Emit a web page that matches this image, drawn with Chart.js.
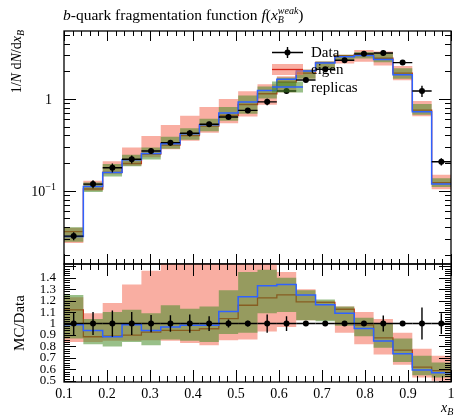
<!DOCTYPE html>
<html>
<head>
<meta charset="utf-8">
<script src="https://cdn.jsdelivr.net/npm/chart.js@4.4.1/dist/chart.umd.min.js"></script>
<style>
  html, body { margin: 0; padding: 0; background: #fff; }
  #wrap { position: relative; width: 455px; height: 418px; }
  #top { position: absolute; left: 0; top: 0; }
  #bot { position: absolute; left: 0; top: 255px; }
</style>
</head>
<body>
<div id="wrap">
  <canvas id="top" width="455" height="270"></canvas>
  <canvas id="bot" width="455" height="163"></canvas>
</div>
<script>
// bins in x_B
var binEdges = [0.1, 0.145, 0.19, 0.235, 0.28, 0.325, 0.37, 0.415, 0.46, 0.505, 0.55,
                0.595, 0.64, 0.685, 0.73, 0.775, 0.82, 0.865, 0.91, 0.955, 1.0];
// measured data, 1/N dN/dx_B
var dataVals = [0.032, 0.118, 0.178, 0.22, 0.271, 0.334, 0.423, 0.53, 0.635, 0.75,
                0.93, 1.22, 1.61, 2.11, 2.64, 3.1, 3.17, 2.49, 1.22, 0.207];
var dataRelErr = [0.10, 0.10, 0.115, 0.10, 0.075, 0.072, 0.08, 0.065, 0.035, 0.025,
                  0.08, 0.065, 0.02, 0.02, 0.02, 0.02, 0.07, 0.02, 0.14, 0.09];
// MC / Data
var eigenRatio = [1.12, 0.885, 0.89, 0.90, 0.925, 0.94, 0.94, 0.955, 1.043, 1.16,
                  1.225, 1.25, 1.19, 1.185, 1.125, 0.987, 0.876, 0.768, 0.62, 0.59];
var eigenLo = [0.84, 0.84, 0.85, 0.85, 0.855, 0.85, 0.83, 0.81, 0.855, 0.86,
               0.93, 0.97, 1.03, 1.03, 0.92, 0.82, 0.73, 0.64, 0.53, 0.50];
var eigenHi = [1.23, 1.09, 1.18, 1.34, 1.46, 1.56, 1.55, 1.54, 1.57, 1.62,
               1.55, 1.45, 1.30, 1.20, 1.15, 1.10, 1.04, 0.92, 0.78, 0.72];
var replicasRatio = [0.99, 0.94, 0.885, 0.99, 0.94, 0.97, 0.985, 0.985, 1.105, 1.235,
                     1.33, 1.34, 1.25, 1.165, 1.09, 0.957, 0.847, 0.737, 0.595, 0.57];
var replicasLo = [0.87, 0.82, 0.80, 0.84, 0.81, 0.86, 0.85, 0.84, 0.91, 0.92,
                  1.09, 1.10, 1.03, 1.02, 0.98, 0.89, 0.79, 0.665, 0.55, 0.53];
var replicasHi = [1.25, 1.04, 1.10, 1.12, 1.09, 1.16, 1.13, 1.15, 1.29, 1.45,
                  1.47, 1.40, 1.29, 1.21, 1.15, 1.05, 1.00, 0.87, 0.72, 0.66];

var RED_BAND = 'rgba(245,120,100,0.6)';
var GREEN_BAND = 'rgba(70,140,40,0.55)';
var RED_LINE = '#d8261a';
var BLUE_LINE = '#2f62ff';
var SERIF = '"Liberation Serif", "DejaVu Serif", serif';
var R14 = '14px ' + SERIF, I14 = 'italic 14px ' + SERIF;

function steps(vals, scaleBy) {
  var pts = [];
  for (var i = 0; i < vals.length; i++) {
    var v = scaleBy ? vals[i] * scaleBy[i] : vals[i];
    pts.push({x: binEdges[i], y: v}, {x: binEdges[i + 1], y: v});
  }
  return pts;
}

function makeSets(scaleBy) {
  var pts = [];
  for (var i = 0; i < dataVals.length; i++) {
    pts.push({x: (binEdges[i] + binEdges[i + 1]) / 2, y: scaleBy ? dataVals[i] : 1});
  }
  var base = {pointRadius: 0, tension: 0, fill: false, borderColor: 'rgba(0,0,0,0)', borderWidth: 1};
  return [
    Object.assign({}, base, {data: steps(eigenLo, scaleBy), order: 10}),
    Object.assign({}, base, {data: steps(eigenHi, scaleBy), fill: '-1', backgroundColor: RED_BAND, order: 9}),
    Object.assign({}, base, {data: steps(eigenRatio, scaleBy), borderColor: RED_LINE, borderWidth: 1.3, order: 8}),
    Object.assign({}, base, {data: steps(replicasLo, scaleBy), order: 7}),
    Object.assign({}, base, {data: steps(replicasHi, scaleBy), fill: '-1', backgroundColor: GREEN_BAND, order: 6}),
    Object.assign({}, base, {data: steps(replicasRatio, scaleBy), borderColor: BLUE_LINE, borderWidth: 1.5, order: 5}),
    {data: pts, showLine: false, pointRadius: 3, pointBackgroundColor: '#000', pointBorderWidth: 0, order: 1}
  ];
}

function errPlugin(isRatio) {
  return {
    id: 'err',
    afterDatasetsDraw: function(chart) {
      var ctx = chart.ctx, xs = chart.scales.x, ys = chart.scales.y;
      ctx.save();
      ctx.strokeStyle = '#000';
      ctx.lineWidth = 1.4;
      for (var i = 0; i < dataVals.length; i++) {
        var c = isRatio ? 1 : dataVals[i];
        var y = ys.getPixelForValue(c);
        var xm = xs.getPixelForValue((binEdges[i] + binEdges[i + 1]) / 2);
        ctx.beginPath();
        ctx.moveTo(xs.getPixelForValue(binEdges[i]), y);
        ctx.lineTo(xs.getPixelForValue(binEdges[i + 1]), y);
        ctx.moveTo(xm, ys.getPixelForValue(c * (1 - dataRelErr[i])));
        ctx.lineTo(xm, ys.getPixelForValue(c * (1 + dataRelErr[i])));
        ctx.stroke();
      }
      ctx.restore();
    }
  };
}

function seg(ctx, x1, y1, x2, y2) { ctx.moveTo(x1, y1); ctx.lineTo(x2, y2); }

function drawFrame(chart, xMaj, xMin, yTicks) {
  var ctx = chart.ctx, a = chart.chartArea, xs = chart.scales.x, ys = chart.scales.y;
  ctx.save();
  ctx.strokeStyle = '#000';
  ctx.lineWidth = 1;
  ctx.beginPath();
  for (var k = 0; k <= 45; k++) {
    var px = Math.round(xs.getPixelForValue(0.1 + k * 0.02)) + 0.5;
    var len = (k % 5 === 0) ? xMaj : xMin;
    seg(ctx, px, a.top, px, a.top + len);
    seg(ctx, px, a.bottom, px, a.bottom - len);
  }
  yTicks.forEach(function(t) {
    var py = Math.round(ys.getPixelForValue(t.v)) + 0.5;
    seg(ctx, a.left, py, a.left + t.len, py);
    seg(ctx, a.right, py, a.right - t.len, py);
  });
  ctx.stroke();
  ctx.lineWidth = 1.3;
  ctx.strokeRect(a.left, a.top, a.right - a.left, a.bottom - a.top);
  ctx.restore();
}

function rich(ctx, x, y, parts) {
  parts.forEach(function(p) {
    ctx.font = p.f;
    ctx.fillText(p.t, x, y + (p.dy || 0));
    if (!p.stay) x += ctx.measureText(p.t).width;
  });
  return x;
}
function richWidth(ctx, parts) {
  var w = 0;
  parts.forEach(function(p) { ctx.font = p.f; if (!p.stay) w += ctx.measureText(p.t).width; });
  return w;
}

var topFrame = {
  id: 'topFrame',
  afterDraw: function(chart) {
    var ys = chart.scales.y, ticks = [];
    [0.01, 0.1, 1].forEach(function(d) {
      for (var m = 1; m <= 9; m++) {
        var v = m * d;
        if (v >= ys.min && v <= ys.max) ticks.push({v: v, len: m === 1 ? 12 : 6});
      }
    });
    drawFrame(chart, 10, 5, ticks);

    var ctx = chart.ctx;
    ctx.save();
    ctx.fillStyle = '#000';
    // title
    var T = '15.5px ' + SERIF, TI = 'italic 15.5px ' + SERIF;
    rich(ctx, 63, 20, [
      {t: 'b', f: TI}, {t: '-quark fragmentation function ', f: T},
      {t: 'f', f: TI}, {t: '(', f: T}, {t: 'x', f: TI},
      {t: 'B', f: 'italic 10px ' + SERIF, dy: 3, stay: true},
      {t: 'weak', f: 'italic 10px ' + SERIF, dy: -6}, {t: ')', f: T}
    ]);
    // y tick labels
    ctx.textAlign = 'right';
    ctx.font = R14;
    ctx.fillText('1', 52, ys.getPixelForValue(1) + 5);
    ctx.font = '10px ' + SERIF;
    var ws = ctx.measureText('\u22121').width;
    ctx.fillText('\u22121', 56, ys.getPixelForValue(0.1) - 1);
    ctx.font = R14;
    ctx.fillText('10', 56 - ws, ys.getPixelForValue(0.1) + 5);
    ctx.textAlign = 'left';
    // y axis title
    var yl = [
      {t: '1/', f: R14}, {t: 'N', f: I14}, {t: ' d', f: R14}, {t: 'N', f: I14},
      {t: '/d', f: R14}, {t: 'x', f: I14}, {t: 'B', f: 'italic 10px ' + SERIF, dy: 3}
    ];
    ctx.save();
    ctx.translate(21, 30);
    ctx.rotate(-Math.PI / 2);
    rich(ctx, -richWidth(ctx, yl), 0, yl);
    ctx.restore();
    // legend
    var L = 272, Rr = 303, xm = (L + Rr) / 2;
    ctx.strokeStyle = '#000';
    ctx.lineWidth = 1.4;
    ctx.beginPath();
    seg(ctx, L, 52.5, Rr, 52.5);
    seg(ctx, xm, 47, xm, 58);
    ctx.stroke();
    ctx.beginPath(); ctx.arc(xm, 52.5, 3, 0, 2 * Math.PI); ctx.fill();
    ctx.fillStyle = RED_BAND;
    ctx.fillRect(L, 64, Rr - L, 11);
    ctx.strokeStyle = RED_LINE; ctx.lineWidth = 1.3;
    ctx.beginPath(); seg(ctx, L, 69.5, Rr, 69.5); ctx.stroke();
    ctx.fillStyle = GREEN_BAND;
    ctx.fillRect(L, 81.5, Rr - L, 11);
    ctx.strokeStyle = BLUE_LINE; ctx.lineWidth = 1.5;
    ctx.beginPath(); seg(ctx, L, 87, Rr, 87); ctx.stroke();
    ctx.fillStyle = '#000';
    ctx.font = '15px ' + SERIF;
    ctx.fillText('Data', 311, 57);
    ctx.fillText('eigen', 311, 74);
    ctx.fillText('replicas', 311, 92);
    ctx.restore();
  }
};

var botFrame = {
  id: 'botFrame',
  afterDraw: function(chart) {
    var ticks = [];
    for (var k = 0; k <= 50; k++) ticks.push({v: 0.5 + k * 0.02, len: k % 5 === 0 ? 12 : 6});
    drawFrame(chart, 12, 6, ticks);
    var ctx = chart.ctx, a = chart.chartArea;
    ctx.save();
    ctx.fillStyle = '#000';
    ctx.save();
    ctx.translate(24, (a.top + a.bottom) / 2);
    ctx.rotate(-Math.PI / 2);
    ctx.textAlign = 'center';
    ctx.font = '15px ' + SERIF;
    ctx.fillText('MC/Data', 0, 0);
    ctx.restore();
    rich(ctx, 441, 157, [{t: 'x', f: I14}, {t: 'B', f: 'italic 10px ' + SERIF, dy: 3}]);
    ctx.restore();
  }
};

function fmt(v) {
  if (Math.abs(v - 1) < 1e-6) return '1';
  return v.toFixed(1);
}

new Chart(document.getElementById('top'), {
  type: 'line',
  data: {datasets: makeSets(dataVals)},
  options: {
    responsive: false,
    animation: false,
    events: [],
    layout: {padding: {left: 0, right: 1, top: 31, bottom: 6}},
    plugins: {legend: {display: false}, tooltip: {enabled: false}},
    scales: {
      x: {type: 'linear', min: 0.1, max: 1.0, display: false},
      y: {
        type: 'logarithmic', min: 0.0159, max: 5.5,
        ticks: {display: false}, grid: {display: false}, border: {display: false},
        afterFit: function(s) { s.width = 64; s.paddingTop = 0; s.paddingBottom = 0; }
      }
    }
  },
  plugins: [errPlugin(false), topFrame]
});

new Chart(document.getElementById('bot'), {
  type: 'line',
  data: {datasets: makeSets(null)},
  options: {
    responsive: false,
    animation: false,
    events: [],
    layout: {padding: {left: 0, right: 1, top: 9, bottom: 0}},
    plugins: {legend: {display: false}, tooltip: {enabled: false}},
    scales: {
      x: {
        type: 'linear', min: 0.1, max: 1.0,
        grid: {display: false, drawTicks: false}, border: {display: false},
        ticks: {stepSize: 0.1, autoSkip: false, maxRotation: 0, padding: 4, color: '#000',
                font: {family: SERIF, size: 14}, callback: fmt},
        afterFit: function(s) { s.height = 36; s.paddingLeft = 0; s.paddingRight = 0; }
      },
      y: {
        type: 'linear', min: 0.49, max: 1.52,
        grid: {display: false, drawTicks: false}, border: {display: false},
        ticks: {stepSize: 0.1, includeBounds: false, autoSkip: false, padding: 8, color: '#000',
                font: {family: SERIF, size: 13},
                callback: function(v) { return v > 1.45 ? '' : fmt(v); }},
        afterFit: function(s) { s.width = 64; s.paddingTop = 0; s.paddingBottom = 0; }
      }
    }
  },
  plugins: [errPlugin(true), botFrame]
});
</script>
</body>
</html>
